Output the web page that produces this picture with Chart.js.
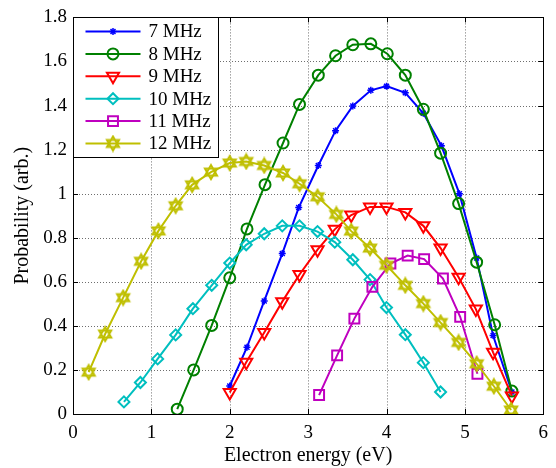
<!DOCTYPE html>
<html>
<head>
<meta charset="utf-8">
<script src="https://cdn.jsdelivr.net/npm/chart.js@4/dist/chart.umd.min.js"></script>
<style>
  html, body { margin: 0; padding: 0; background: #fff; }
  #wrap { width: 556px; height: 468px; }
</style>
</head>
<body>
<div id="wrap"><canvas id="probChart" width="556" height="468"></canvas></div>
<script>
// values
const labels = ["7 MHz", "8 MHz", "9 MHz", "10 MHz", "11 MHz", "12 MHz"];

const energy7 = [2.0, 2.22, 2.44, 2.67, 2.88, 3.13, 3.35, 3.57, 3.80, 4.0, 4.24, 4.47, 4.70, 4.93, 5.15, 5.36, 5.6];
const prob7 = [0.127, 0.303, 0.513, 0.728, 0.937, 1.128, 1.286, 1.398, 1.469, 1.488, 1.458, 1.365, 1.218, 1.0, 0.708, 0.356, 0.10];

const energy8 = [1.33, 1.54, 1.77, 2.0, 2.22, 2.45, 2.68, 2.89, 3.13, 3.35, 3.57, 3.80, 4.01, 4.24, 4.47, 4.69, 4.92, 5.15, 5.38, 5.60];
const prob8 = [0.022, 0.2, 0.402, 0.618, 0.84, 1.041, 1.23, 1.405, 1.538, 1.626, 1.676, 1.68, 1.635, 1.538, 1.383, 1.184, 0.955, 0.689, 0.405, 0.104];

const energy9 = [2.0, 2.21, 2.44, 2.67, 2.89, 3.12, 3.34, 3.55, 3.79, 4.0, 4.24, 4.47, 4.69, 4.92, 5.14, 5.36, 5.60];
const prob9 = [0.098, 0.235, 0.37, 0.51, 0.633, 0.746, 0.838, 0.903, 0.94, 0.94, 0.915, 0.854, 0.753, 0.621, 0.476, 0.28, 0.082];

const energy10 = [0.65, 0.86, 1.08, 1.31, 1.53, 1.77, 2.0, 2.21, 2.44, 2.67, 2.89, 3.12, 3.34, 3.57, 3.79, 4.0, 4.24, 4.47, 4.69];
const prob10 = [0.055, 0.143, 0.25, 0.359, 0.478, 0.584, 0.685, 0.768, 0.818, 0.854, 0.854, 0.828, 0.78, 0.70, 0.61, 0.483, 0.36, 0.233, 0.10];

const energy11 = [3.14, 3.37, 3.59, 3.82, 4.05, 4.27, 4.48, 4.72, 4.94, 5.16];
const prob11 = [0.086, 0.266, 0.433, 0.577, 0.683, 0.719, 0.703, 0.615, 0.441, 0.183];

const energy12 = [0.2, 0.41, 0.64, 0.87, 1.09, 1.31, 1.52, 1.76, 2.0, 2.21, 2.44, 2.68, 2.89, 3.12, 3.36, 3.55, 3.79, 4.0, 4.24, 4.47, 4.69, 4.92, 5.15, 5.37, 5.59];
const prob12 = [0.19, 0.363, 0.528, 0.693, 0.831, 0.945, 1.04, 1.098, 1.139, 1.146, 1.128, 1.094, 1.045, 0.986, 0.906, 0.83, 0.753, 0.675, 0.584, 0.501, 0.415, 0.325, 0.228, 0.126, 0.018];

const xTicks = [0, 1, 2, 3, 4, 5, 6];
const xTickLabels = ["0", "1", "2", "3", "4", "5", "6"];
const yTicks = [0, 0.2, 0.4, 0.6, 0.8, 1.0, 1.2, 1.4, 1.6, 1.8];
const yTickLabels = ["0", "0.2", "0.4", "0.6", "0.8", "1", "1.2", "1.4", "1.6", "1.8"];

const FONT = "'Liberation Serif', 'Times New Roman', serif";

// hexagram marker for the 12 MHz series (no built-in style for it)
function hexagram(color) {
  const c = document.createElement("canvas");
  c.width = 18; c.height = 18;
  const g = c.getContext("2d");
  const r = 7;
  g.strokeStyle = color;
  g.lineWidth = 2;
  [-Math.PI / 2, Math.PI / 2].forEach(function (start) {
    g.beginPath();
    for (let k = 0; k < 3; k++) {
      const a = start + k * 2 * Math.PI / 3;
      const px = 9 + r * Math.cos(a), py = 9 + r * Math.sin(a);
      if (k === 0) g.moveTo(px, py); else g.lineTo(px, py);
    }
    g.closePath();
    g.stroke();
  });
  return c;
}

const styles = [
  { color: "#0000ff", pointStyle: "star", radius: 3.5, rotation: 0, bw: 1.5 },
  { color: "#008000", pointStyle: "circle", radius: 5.5, rotation: 0, bw: 2 },
  { color: "#ff0000", pointStyle: "triangle", radius: 7, rotation: 180, bw: 2 },
  { color: "#00bfbf", pointStyle: "rectRot", radius: 5.5, rotation: 0, bw: 2 },
  { color: "#bf00bf", pointStyle: "rect", radius: 7, rotation: 0, bw: 2 },
  { color: "#bfbf00", pointStyle: hexagram("#bfbf00"), radius: 7, rotation: 0, bw: 2 }
];

const xs = [energy7, energy8, energy9, energy10, energy11, energy12];
const ys = [prob7, prob8, prob9, prob10, prob11, prob12];

const datasets = labels.map(function (lab, i) {
  const s = styles[i];
  return {
    label: lab,
    data: xs[i].map(function (x, j) { return { x: x, y: ys[i][j] }; }),
    showLine: true,
    borderColor: s.color,
    borderWidth: 2,
    backgroundColor: "rgba(0,0,0,0)",
    pointStyle: s.pointStyle,
    pointRadius: s.radius,
    pointRotation: s.rotation,
    pointBorderWidth: s.bw,
    pointBorderColor: s.color,
    pointBackgroundColor: "rgba(0,0,0,0)",
    tension: 0,
    order: labels.length - i
  };
});

// dotted grid, axes box, inward ticks and the legend inside the plot
const framePlugin = {
  id: "frame",
  beforeDatasetsDraw(chart) {
    const ctx = chart.ctx;
    const a = chart.chartArea;
    const sx = chart.scales.x, sy = chart.scales.y;
    ctx.save();
    ctx.strokeStyle = "#6e6e6e";
    ctx.lineWidth = 1;
    ctx.setLineDash([1, 2]);
    ctx.beginPath();
    xTicks.forEach(function (v) {
      const px = Math.round(sx.getPixelForValue(v)) + 0.5;
      ctx.moveTo(px, a.top); ctx.lineTo(px, a.bottom);
    });
    yTicks.forEach(function (v) {
      const py = Math.round(sy.getPixelForValue(v)) + 0.5;
      ctx.moveTo(a.left, py); ctx.lineTo(a.right, py);
    });
    ctx.stroke();
    ctx.restore();
  },
  afterDatasetsDraw(chart) {
    const ctx = chart.ctx;
    const a = chart.chartArea;
    const sx = chart.scales.x, sy = chart.scales.y;
    ctx.save();
    ctx.strokeStyle = "#000";
    ctx.lineWidth = 1;
    ctx.beginPath();
    xTicks.forEach(function (v) {
      const px = Math.round(sx.getPixelForValue(v)) + 0.5;
      ctx.moveTo(px, a.bottom); ctx.lineTo(px, a.bottom - 5);
      ctx.moveTo(px, a.top); ctx.lineTo(px, a.top + 5);
    });
    yTicks.forEach(function (v) {
      const py = Math.round(sy.getPixelForValue(v)) + 0.5;
      ctx.moveTo(a.left, py); ctx.lineTo(a.left + 5, py);
      ctx.moveTo(a.right, py); ctx.lineTo(a.right - 5, py);
    });
    ctx.stroke();
    ctx.strokeRect(Math.round(a.left) + 0.5, Math.round(a.top) + 0.5,
      Math.round(a.right - a.left), Math.round(a.bottom - a.top));
    ctx.restore();
  },
  afterDraw(chart) {
    const ctx = chart.ctx;
    const a = chart.chartArea;
    const bx = Math.round(a.left) + 0.5, by = Math.round(a.top) + 0.5;
    const bw = 145, bh = 140;
    ctx.save();
    ctx.fillStyle = "#fff";
    ctx.fillRect(bx, by, bw, bh);
    ctx.strokeStyle = "#000";
    ctx.lineWidth = 1;
    ctx.strokeRect(bx, by, bw, bh);
    ctx.font = "19px " + FONT;
    ctx.textBaseline = "middle";
    chart.data.datasets.forEach(function (ds, i) {
      const yy = by + 14 + i * 22.4;
      ctx.strokeStyle = ds.borderColor;
      ctx.lineWidth = 2;
      ctx.beginPath();
      ctx.moveTo(bx + 12, yy); ctx.lineTo(bx + 67, yy);
      ctx.stroke();
      ctx.fillStyle = "rgba(0,0,0,0)";
      ctx.lineWidth = ds.pointBorderWidth;
      Chart.helpers.drawPoint(ctx, {
        pointStyle: ds.pointStyle,
        radius: ds.pointRadius,
        rotation: ds.pointRotation,
        borderWidth: ds.pointBorderWidth
      }, bx + 39.5, yy);
      ctx.fillStyle = "#000";
      ctx.fillText(ds.label, bx + 75, yy + 1);
    });
    ctx.restore();
  }
};

const ctx = document.getElementById("probChart").getContext("2d");
const probChart = new Chart(ctx, {
  type: "scatter",
  data: { datasets: datasets },
  plugins: [framePlugin],
  options: {
    responsive: false,
    animation: false,
    layout: { padding: { top: 14, right: 8, bottom: 0, left: 0 } },
    plugins: {
      legend: { display: false },
      tooltip: { enabled: false }
    },
    scales: {
      x: {
        type: "linear",
        min: 0,
        max: 6,
        afterBuildTicks(scale) { scale.ticks = xTicks.map(function (v) { return { value: v }; }); },
        afterFit(scale) { scale.height = 54; },
        ticks: {
          color: "#000",
          padding: 8,
          font: { family: FONT, size: 19 },
          callback: function (v, i) { return xTickLabels[i]; }
        },
        grid: { display: false, drawTicks: false },
        border: { display: false },
        title: {
          display: true,
          text: "Electron energy (eV)",
          color: "#000",
          font: { family: FONT, size: 20 },
          padding: { top: 0, bottom: 0 }
        }
      },
      y: {
        type: "linear",
        min: 0,
        max: 1.8,
        afterBuildTicks(scale) { scale.ticks = yTicks.map(function (v) { return { value: v }; }); },
        afterFit(scale) { scale.width = 73; },
        ticks: {
          color: "#000",
          padding: 6,
          font: { family: FONT, size: 19 },
          callback: function (v, i) { return yTickLabels[i]; }
        },
        grid: { display: false, drawTicks: false },
        border: { display: false },
        title: {
          display: true,
          text: "Probability (arb.)",
          color: "#000",
          font: { family: FONT, size: 20 },
          padding: { top: 11, bottom: 0 }
        }
      }
    }
  }
});
</script>
</body>
</html>
